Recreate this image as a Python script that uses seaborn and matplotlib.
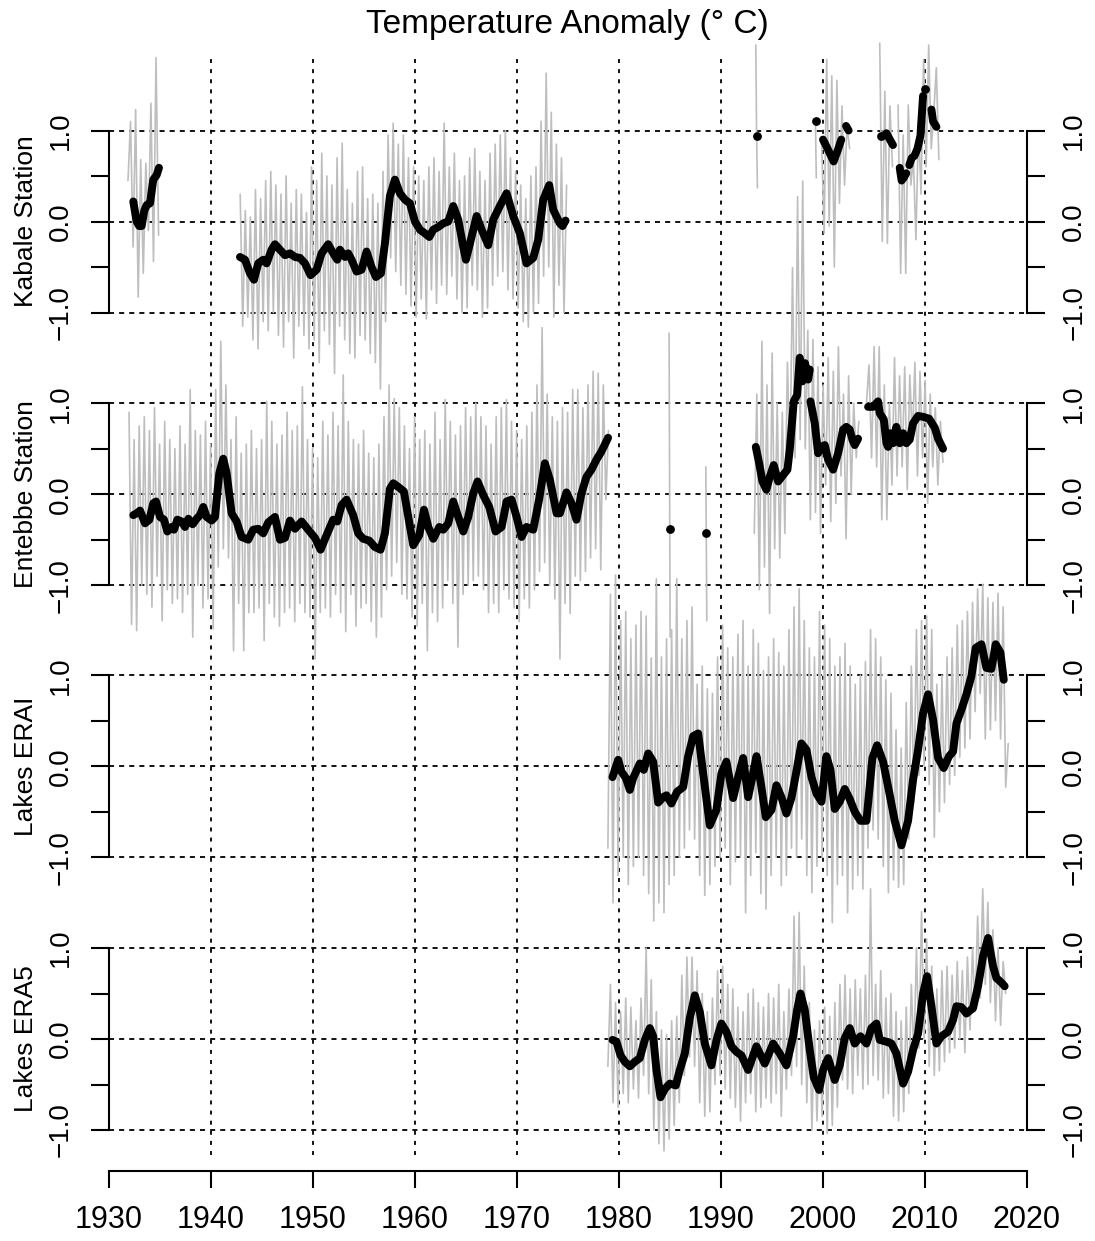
import numpy as np
import pandas as pd
import matplotlib
matplotlib.use("Agg")
import matplotlib.pyplot as plt
import seaborn as sns

# ---------------- data ----------------
panel_names = ["Kabale Station", "Entebbe Station", "Lakes ERAI", "Lakes ERA5"]
year_ticks = list(range(1930, 2021, 10))
grid_years = list(range(1940, 2011, 10))

# grey = monthly anomaly, stored as (first year, step in years, values)
kabale_grey = [
    (1931.9, 0.25, [0.45, 1.10, -0.28, 1.23, -0.83, 0.68, -0.57, 0.64, -0.10, 1.30, -0.44, 1.80, -0.15]),
    (1942.9, 0.25, [
        0.30, -1.15, 0.12, -1.05, 0.05, -1.30, 0.35, -1.40, 0.25, -1.10, 0.45, -1.20,
        0.55, -1.00, 0.40, -1.25, 0.30, -1.38, 0.50, -1.10, 0.20, -1.50, 0.35, -1.15,
        0.30, -1.25, 0.10, -1.40, 0.60, -1.30, 0.45, -1.55, 0.75, -1.20, 0.50, -1.35,
        0.40, -1.67, 0.70, -1.15, 0.86, -1.30, 0.35, -1.45, 0.20, -1.50, 0.55, -1.25,
        0.60, -1.30, 0.25, -1.45, 0.30, -1.55, 0.20, -1.84, 0.55, -1.10, 0.95, -0.40,
        1.08, -0.55, 0.85, -0.70, 0.95, -0.80, 0.70, -0.93, 0.60, -1.05, 0.50, -0.85,
        0.45, -1.07, 0.60, -0.75, 0.70, -0.90, 0.55, -0.70, 1.08, -0.80, 0.60, -0.60,
        0.75, -0.85, 0.45, -1.00, 0.50, -0.95, 0.70, -0.70, 0.80, -0.75, 0.55, -1.05,
        0.45, -0.95, 0.75, -0.70, 0.85, -0.60, 0.95, -0.55, 1.00, -0.75, 0.70, -0.85,
        0.55, -0.95, 0.40, -1.10, 0.25, -1.16, 0.50, -1.00, 0.60, -0.90, 1.10, -0.60,
        1.63, -0.50, 1.20, -1.05, 0.85, -0.70, 0.70, -1.00, 0.40]),
    (1993.45, 0.08, [1.94, 0.94, 0.37]),
    (1999.3, 0.08, [1.10, 0.48]),
    (1999.9, 0.25, [0.90, -0.13, 1.78, -0.05, 1.60, -0.50, 1.55, 0.20, 1.27, 0.40, 1.05, 0.80]),
    (2005.6, 0.25, [1.96, -0.22, 1.43, -0.24, 1.27, 0.60]),
    (2007.4, 0.25, [1.28, -0.57, 0.95, -0.57, 1.28, 0.40, 0.70, -0.20, 1.10, 0.30, 1.78, 0.60,
                    1.94, 0.80, 1.20, 1.69, 0.68]),
]

entebbe_grey = [
    (1932.0, 0.25, [
        0.90, -1.43, 0.60, -1.50, 0.75, -1.00, 0.85, -1.10, 0.70, -1.24, 0.95, -0.90,
        0.55, -1.39, 0.80, -1.05, 0.60, -1.20, 0.50, -1.15, 0.75, -1.30, 0.55, -1.10,
        1.15, -1.57, 0.70, -1.00, 0.65, -1.25, 0.80, -1.15, 0.55, -1.48, 1.15, -0.80,
        1.68, -0.60, 1.20, -0.70, 0.60, -1.72, 0.85, -1.20, 0.45, -1.72, 0.55, -1.30,
        0.70, -1.30, 0.50, -1.25, 0.60, -1.61, 1.02, -1.20, 0.80, -1.35, 0.55, -1.45,
        0.65, -1.30, 0.90, -1.25, 0.70, -1.40, 0.75, -1.20, 1.18, -1.30, 0.60, -1.35,
        0.50, -1.81, 0.40, -1.30, 0.80, -1.25, 0.65, -1.35, 0.90, -1.10, 0.75, -1.30,
        1.31, -1.51, 0.80, -1.10, 0.60, -1.45, 0.55, -1.25, 0.70, -1.20, 0.45, -1.40,
        0.40, -1.57, 0.55, -1.35, 0.85, -1.05, 1.20, -0.90, 1.05, -0.75, 0.95, -1.10,
        0.75, -1.15, 0.50, -1.35, 0.85, -1.45, 0.60, -1.20, 0.70, -1.72, 0.55, -1.30,
        0.90, -1.40, 0.60, -1.25, 1.04, -0.95, 0.80, -1.20, 0.65, -1.68, 0.75, -1.10,
        0.95, -1.00, 0.85, -0.95, 1.00, -0.90, 0.85, -1.05, 0.75, -1.30, 0.55, -1.20,
        0.85, -1.30, 0.95, -1.05, 1.04, -1.15, 0.80, -1.25, 0.70, -1.40, 0.60, -1.15,
        0.75, -1.25, 0.90, -1.05, 1.20, -0.85, 1.83, -0.75, 1.10, -1.00, 0.85, -1.15,
        0.80, -1.81, 0.95, -1.20, 0.90, -1.31, 1.15, -0.90, 1.15, -0.95, 0.95, -0.85,
        1.20, -0.70, 1.35, -0.60, 1.33, -0.83, 1.20, -0.06, 0.70]),
    (1984.95, 0.1, [1.77, -1.57]),
    (1988.55, 0.1, [0.30, -1.39]),
    (1993.3, 0.25, [
        -0.43, 1.10, -1.05, 1.68, -0.80, 1.20, -1.31, 1.55, -0.60, 1.00, -0.70, 0.90,
        -0.43, 1.45, 0.30, 2.49, 0.40, 3.27, 0.60, 3.44, 0.50, 1.80, -0.28, 1.70,
        -0.20, 1.40, -0.43, 1.20, 0.10, 1.50, -0.30, 1.35, -0.10, 1.62, 0.20, 1.10,
        -0.49, 1.30, 0.00, 1.00, 0.40, 0.80]),
    (2004.3, 0.25, [
        1.00, 1.42, 0.40, 1.62, 0.30, 1.62, -0.28, 1.20, -0.28, 1.00, 0.10, 1.50,
        0.20, 1.30, 0.30, 1.40, 0.05, 1.31, 0.60, 1.45, 0.20, 1.35, 0.40, 1.25,
        -0.10, 1.10, 0.30, 0.95, 0.10, 0.80, 0.35]),
]

erai_grey = [
    (1978.95, 0.25, [
        -0.90, 1.89, -1.50, 2.10, -1.20, 1.60, -1.00, 1.70, -1.30, 1.40, -1.10, 1.55,
        -1.00, 1.70, -1.20, 1.65, -1.40, 1.19, -1.70, 2.06, -1.50, 1.20, -1.61, 1.40,
        -1.30, 1.50, -1.20, 2.06, -1.00, 1.40, -0.90, 1.60, -0.70, 1.75, -0.80, 0.90,
        -1.20, 1.10, -1.42, 0.85, -1.30, 0.80, -1.10, 1.20, -1.00, 1.55, -0.90, 1.30,
        -1.30, 1.20, -1.05, 1.45, -1.00, 1.60, -1.61, 1.10, -1.20, 1.50, -0.95, 1.35,
        -1.40, 1.05, -1.57, 1.20, -1.20, 1.40, -1.00, 1.25, -1.31, 1.10, -1.20, 1.50,
        -0.90, 1.75, -1.00, 1.95, -0.80, 1.60, -1.20, 1.30, -1.39, 1.20, -1.10, 1.70,
        -1.00, 1.55, -1.20, 1.40, -1.72, 1.10, -1.30, 1.20, -1.20, 1.35, -1.61, 1.10,
        -1.35, 0.90, -1.20, 1.00, -1.35, 1.15, -0.90, 1.50, -0.70, 1.40, -0.80, 1.20,
        -1.10, 0.95, -1.39, 0.80, -1.25, 0.40, -1.33, 0.20, -1.30, 0.70, -0.80, 1.10,
        -0.40, 1.50, -0.10, 1.60, 0.00, 1.65, -0.20, 1.50, -0.78, 0.90, -0.50, 1.00,
        -0.40, 1.20, -0.20, 1.30, -0.10, 1.55, 0.10, 1.60, 0.20, 1.70, 0.30, 1.80,
        0.60, 1.95, 0.80, 2.00, 0.30, 1.85, 0.40, 1.80, 0.50, 1.90, 0.30, 1.75,
        -0.23, 0.25]),
]

era5_grey = [
    (1978.95, 0.25, [
        -0.30, 0.60, -0.70, 0.40, -0.75, 0.30, -0.60, 0.45, -0.70, 0.35, -0.55, 0.20,
        -0.65, 0.45, -0.40, 1.00, -0.60, 0.65, -1.00, 0.30, -1.15, 0.10, -1.23, 0.05,
        -1.10, 0.20, -0.95, 0.25, -0.70, 0.70, -0.40, 0.90, -0.20, 0.90, -0.30, 0.75,
        -0.70, 0.50, -0.85, 0.30, -0.80, 0.45, -0.50, 0.75, -0.40, 0.80, -0.55, 0.60,
        -0.65, 0.55, -0.75, 0.35, -0.90, 0.30, -0.70, 0.50, -0.60, 0.55, -0.80, 0.40,
        -0.75, 0.35, -0.65, 0.50, -0.70, 0.45, -0.60, 0.60, -0.85, 0.30, -0.55, 0.55,
        -0.40, 1.35, -0.30, 1.39, -0.50, 0.80, -0.70, 0.40, -1.00, 0.10, -0.90, 0.20,
        -0.85, 0.35, -1.04, 0.25, -0.95, 0.40, -0.75, 0.60, -0.45, 0.70, -0.55, 0.55,
        -0.60, 0.65, -0.40, 0.55, -0.55, 0.70, -0.50, 1.65, -0.40, 0.60, -0.45, 0.75,
        -0.65, 0.45, -0.60, 0.50, -0.85, 0.30, -0.90, 0.20, -0.80, 0.35, -0.60, 0.60,
        -0.20, 1.00, -0.10, 1.40, 0.00, 1.10, -0.30, 0.80, -0.40, 0.55, -0.35, 0.75,
        -0.25, 0.80, -0.15, 0.70, -0.10, 0.85, 0.00, 0.75, -0.15, 0.90, 0.10, 1.00,
        0.30, 1.35, 0.45, 1.65, 0.60, 1.50, 0.40, 1.20, 0.20, 1.00, 0.15, 0.85,
        0.50]),
]

# black = 12-month running mean, (year, anomaly); one list per unbroken piece
kabale_black = [
    [(1932.42, 0.22), (1932.75, 0.00), (1933.0, -0.05), (1933.24, -0.05), (1933.5, 0.12),
     (1933.73, 0.18), (1934.06, 0.20), (1934.38, 0.46), (1934.71, 0.51), (1934.94, 0.59)],
    [(1942.88, -0.39), (1943.37, -0.42), (1943.86, -0.57), (1944.25, -0.64), (1944.67, -0.46),
     (1945.16, -0.42), (1945.49, -0.46), (1945.98, -0.31), (1946.31, -0.25), (1946.80, -0.31),
     (1947.29, -0.37), (1947.78, -0.35), (1948.27, -0.39), (1948.76, -0.40), (1949.25, -0.46),
     (1949.80, -0.59), (1950.39, -0.53), (1950.88, -0.35), (1951.53, -0.25), (1952.02, -0.35),
     (1952.42, -0.42), (1952.68, -0.31), (1953.17, -0.39), (1953.49, -0.35), (1953.82, -0.42),
     (1954.31, -0.55), (1954.80, -0.53), (1955.29, -0.33), (1955.78, -0.50), (1956.21, -0.61),
     (1956.70, -0.57), (1957.09, -0.24), (1957.58, 0.28), (1958.07, 0.46), (1958.56, 0.31),
     (1959.05, 0.24), (1959.54, 0.20), (1960.03, 0.00), (1960.52, -0.09), (1961.01, -0.13),
     (1961.44, -0.17), (1961.83, -0.09), (1962.32, -0.06), (1962.81, -0.02), (1963.30, 0.00),
     (1963.79, 0.17), (1964.28, 0.02), (1964.77, -0.28), (1965.03, -0.42), (1965.43, -0.24),
     (1966.08, 0.06), (1966.57, -0.09), (1967.22, -0.26), (1967.71, 0.02), (1968.36, 0.17),
     (1969.02, 0.31), (1969.67, 0.06), (1970.32, -0.13), (1970.97, -0.46), (1971.63, -0.40),
     (1972.12, -0.20), (1972.61, 0.24), (1973.20, 0.40), (1973.59, 0.13), (1974.24, -0.02),
     (1974.5, -0.05), (1974.8, 0.01)],
    [(1993.57, 0.94)],
    [(1999.39, 1.10)],
    [(2000.04, 0.90), (2000.53, 0.79), (2001.08, 0.66), (2001.51, 0.79), (2001.83, 0.90)],
    [(2002.3, 1.05), (2002.55, 1.00)],
    [(2005.76, 0.94)],
    [(2006.25, 0.97), (2006.45, 0.93), (2006.9, 0.84)],
    [(2007.56, 0.59), (2007.75, 0.45), (2007.95, 0.48), (2008.2, 0.53)],
    [(2008.5, 0.62), (2008.75, 0.70)],
    [(2009.0, 0.72), (2009.3, 0.80), (2009.59, 0.94), (2009.85, 1.38)],
    [(2010.08, 1.46)],
    [(2010.67, 1.23), (2010.83, 1.10), (2011.16, 1.04)],
]

entebbe_black = [
    [(1932.42, -0.23), (1932.75, -0.21), (1933.08, -0.18), (1933.57, -0.32), (1934.0, -0.28),
     (1934.38, -0.10), (1934.65, -0.08), (1935.04, -0.25), (1935.43, -0.28), (1935.76, -0.41),
     (1936.18, -0.36), (1936.41, -0.39), (1936.74, -0.28), (1937.16, -0.30), (1937.49, -0.36),
     (1937.82, -0.27), (1938.24, -0.33), (1938.63, -0.27), (1938.96, -0.23), (1939.28, -0.14),
     (1939.61, -0.25), (1940.10, -0.29), (1940.43, -0.25), (1940.85, 0.23), (1941.24, 0.39),
     (1941.57, 0.23), (1942.06, -0.21), (1942.55, -0.30), (1943.04, -0.47), (1943.69, -0.50),
     (1944.18, -0.39), (1944.67, -0.38), (1945.16, -0.43), (1945.65, -0.31), (1946.31, -0.25),
     (1946.80, -0.50), (1947.29, -0.48), (1947.78, -0.29), (1948.27, -0.38), (1948.92, -0.30),
     (1949.57, -0.39), (1950.23, -0.48), (1950.78, -0.61), (1951.37, -0.45), (1952.02, -0.28),
     (1952.42, -0.30), (1952.84, -0.12), (1953.33, -0.06), (1953.98, -0.23), (1954.47, -0.43),
     (1954.96, -0.49), (1955.55, -0.51), (1956.10, -0.58), (1956.66, -0.61), (1957.09, -0.43),
     (1957.58, 0.06), (1957.91, 0.12), (1958.40, 0.08), (1958.95, 0.03), (1959.38, -0.25),
     (1959.87, -0.56), (1960.46, -0.45), (1960.92, -0.17), (1961.34, -0.36), (1961.83, -0.49),
     (1962.42, -0.36), (1962.81, -0.39), (1963.30, -0.32), (1963.79, -0.08), (1964.28, -0.25),
     (1964.77, -0.41), (1965.26, -0.25), (1965.75, 0.01), (1966.17, 0.14), (1966.73, -0.01),
     (1967.32, -0.14), (1967.94, -0.41), (1968.53, -0.36), (1969.02, -0.08), (1969.51, -0.06),
     (1970.00, -0.25), (1970.49, -0.47), (1970.97, -0.36), (1971.63, -0.39), (1972.22, -0.05),
     (1972.77, 0.34), (1973.26, 0.16), (1973.92, -0.21), (1974.24, -0.21), (1974.89, 0.02),
     (1975.38, -0.10), (1975.87, -0.28), (1976.36, 0.01), (1976.85, 0.19), (1977.34, 0.27),
     (1977.83, 0.38), (1978.32, 0.47), (1978.97, 0.62)],
    [(1985.02, -0.38)],
    [(1988.61, -0.43)],
    [(1993.45, 0.52), (1993.78, 0.34), (1994.10, 0.14), (1994.49, 0.05), (1994.82, 0.19),
     (1995.21, 0.32), (1995.64, 0.14), (1996.13, 0.21), (1996.55, 0.27), (1996.78, 0.49),
     (1997.17, 1.02), (1997.50, 1.09), (1997.76, 1.50), (1998.02, 1.24), (1998.28, 1.44),
     (1998.58, 1.26), (1998.74, 1.37)],
    [(1998.81, 1.02), (1999.23, 0.78), (1999.56, 0.45), (1999.88, 0.52), (2000.21, 0.54),
     (2000.54, 0.38), (2001.03, 0.27), (2001.52, 0.45), (2002.01, 0.71), (2002.33, 0.74),
     (2002.66, 0.71), (2002.92, 0.60), (2003.15, 0.54), (2003.48, 0.61)],
    [(2004.46, 0.96), (2004.95, 0.96), (2005.44, 1.02), (2005.60, 0.89), (2006.00, 0.82),
     (2006.26, 0.56), (2006.42, 0.52), (2006.65, 0.67), (2006.91, 0.56), (2007.23, 0.74),
     (2007.56, 0.56), (2007.89, 0.67), (2008.21, 0.56), (2008.54, 0.60), (2008.87, 0.78),
     (2009.36, 0.86), (2009.85, 0.85), (2010.44, 0.83), (2011.00, 0.73), (2011.32, 0.61),
     (2011.81, 0.50)],
]

erai_black = [
    [(1979.40, -0.12), (1979.96, 0.07), (1980.28, -0.06), (1980.71, -0.13), (1981.10, -0.26),
     (1981.43, -0.13), (1982.08, 0.03), (1982.47, -0.04), (1982.90, 0.14), (1983.39, 0.05),
     (1983.88, -0.40), (1984.37, -0.34), (1984.69, -0.32), (1985.18, -0.41), (1985.74, -0.28),
     (1986.33, -0.23), (1986.82, 0.11), (1987.31, 0.33), (1987.80, 0.36), (1988.29, -0.08),
     (1988.94, -0.65), (1989.59, -0.48), (1990.08, -0.08), (1990.57, 0.05), (1991.23, -0.35),
     (1991.72, -0.12), (1992.21, 0.09), (1992.70, -0.34), (1993.19, -0.08), (1993.52, 0.11),
     (1994.00, -0.23), (1994.43, -0.56), (1994.99, -0.48), (1995.47, -0.21), (1995.96, -0.34),
     (1996.45, -0.52), (1996.94, -0.35), (1997.43, -0.06), (1997.92, 0.25), (1998.42, 0.18),
     (1998.91, -0.12), (1999.40, -0.30), (1999.89, -0.39), (2000.37, 0.11), (2000.77, -0.04),
     (2001.19, -0.47), (2001.68, -0.39), (2002.17, -0.25), (2002.66, -0.36), (2003.15, -0.50),
     (2003.71, -0.60), (2004.30, -0.60), (2004.88, 0.09), (2005.34, 0.23), (2005.93, 0.05),
     (2006.52, -0.28), (2007.07, -0.60), (2007.73, -0.87), (2008.38, -0.60), (2008.87, -0.15),
     (2009.36, 0.18), (2009.85, 0.58), (2010.34, 0.79), (2010.83, 0.51), (2011.32, 0.09),
     (2011.87, -0.02), (2012.40, 0.11), (2012.79, 0.16), (2013.12, 0.47), (2013.61, 0.62),
     (2014.10, 0.79), (2014.59, 0.99), (2015.01, 1.30), (2015.57, 1.34), (2016.06, 1.08),
     (2016.55, 1.07), (2016.97, 1.34), (2017.43, 1.25), (2017.76, 0.95)],
]

era5_black = [
    [(1979.40, -0.01), (1979.79, -0.03), (1980.19, -0.18), (1980.61, -0.25), (1981.10, -0.30),
     (1981.59, -0.25), (1982.08, -0.21), (1982.57, -0.01), (1983.06, 0.12), (1983.39, 0.03),
     (1983.71, -0.34), (1984.11, -0.64), (1984.53, -0.55), (1985.02, -0.49), (1985.61, -0.51),
     (1986.00, -0.34), (1986.49, -0.16), (1986.98, 0.23), (1987.47, 0.48), (1987.96, 0.30),
     (1988.45, -0.05), (1989.10, -0.29), (1989.60, -0.01), (1990.08, 0.17), (1990.57, 0.08),
     (1991.06, -0.08), (1991.55, -0.14), (1992.04, -0.18), (1992.70, -0.34), (1993.51, -0.08),
     (1994.33, -0.27), (1995.15, -0.05), (1995.80, -0.16), (1996.45, -0.29), (1997.11, 0.03),
     (1997.50, 0.32), (1997.83, 0.50), (1998.25, 0.32), (1998.74, -0.12), (1999.13, -0.42),
     (1999.66, -0.56), (2000.05, -0.34), (2000.54, -0.21), (2001.19, -0.45), (2001.68, -0.29),
     (2002.17, 0.01), (2002.66, 0.12), (2003.15, -0.05), (2003.71, 0.03), (2004.30, -0.05),
     (2004.79, 0.12), (2005.28, 0.17), (2005.60, -0.01), (2006.26, -0.03), (2006.75, -0.05),
     (2007.24, -0.16), (2007.89, -0.49), (2008.38, -0.36), (2008.87, -0.12), (2009.36, 0.06),
     (2009.85, 0.50), (2010.24, 0.69), (2010.67, 0.36), (2011.16, -0.05), (2011.65, 0.03),
     (2012.30, 0.08), (2012.79, 0.21), (2013.12, 0.36), (2013.61, 0.35), (2014.10, 0.28),
     (2014.75, 0.34), (2015.24, 0.58), (2015.73, 0.91), (2016.22, 1.11), (2016.71, 0.80),
     (2017.04, 0.67), (2017.53, 0.62), (2017.85, 0.58)],
]

grey_data = [kabale_grey, entebbe_grey, erai_grey, era5_grey]
black_data = [kabale_black, entebbe_black, erai_black, era5_black]


def grey_frame(segs):
    rows = []
    for k, (t0, dt, vals) in enumerate(segs):
        for i, v in enumerate(vals):
            rows.append((t0 + i * dt, v, k))
    return pd.DataFrame(rows, columns=["year", "anom", "seg"])


def black_frame(segs):
    rows = []
    for k, seg in enumerate(segs):
        for t, v in seg:
            rows.append((t, v, k, len(seg)))
    return pd.DataFrame(rows, columns=["year", "anom", "seg", "n"])


# ---------------- figure ----------------
sns.set_style("ticks")
plt.rcParams["font.family"] = ["Liberation Sans", "DejaVu Sans"]
plt.rcParams["text.color"] = "black"
plt.rcParams["axes.labelcolor"] = "black"
plt.rcParams["xtick.color"] = "black"
plt.rcParams["ytick.color"] = "black"

W, H = 1095, 1241
fig = plt.figure(figsize=(W / 100, H / 100), dpi=100)

x0, x1 = 108.6, 1026.6          # pixel columns of 1930 and 2020
centers = [221.5, 494.2, 766.2, 1039.0]   # pixel row of the 0 line per panel
S = 91.0                         # pixels per degree

dot = (0, (2.2, 3.4))
dash = (0, (2.8, 2.8))

# background axes: vertical grid + year axis
top_px, bot_px = 53, 1171
bg = fig.add_axes([x0 / W, 1 - bot_px / H, (x1 - x0) / W, (bot_px - top_px) / H])
bg.set_xlim(1930, 2020)
bg.set_ylim(0, 1)
bg.patch.set_alpha(0)
for yr in grid_years:
    bg.axvline(yr, ymin=16 / (bot_px - top_px), ymax=1, color="black", lw=1.3, ls=dot)
for s in ["top", "left", "right"]:
    bg.spines[s].set_visible(False)
bg.spines["bottom"].set_linewidth(1.5)
bg.spines["bottom"].set_color("black")
bg.set_yticks([])
bg.set_xticks(year_ticks)
bg.set_xticklabels([str(y) for y in year_ticks])
bg.tick_params(axis="x", length=12.5, width=1.5, color="black", labelcolor="black",
               labelsize=22, pad=12)

for k, name in enumerate(panel_names):
    c = centers[k]
    ax = fig.add_axes([x0 / W, 1 - (c + 1.5 * S) / H, (x1 - x0) / W, 3 * S / H])
    ax.patch.set_alpha(0)
    ax.set_xlim(1930, 2020)
    ax.set_ylim(-1.5, 1.5)

    for v in [-1, 0, 1]:
        ax.axhline(v, color="black", lw=1.3, ls=dash, zorder=1)

    g = grey_frame(grey_data[k])
    sns.lineplot(data=g, x="year", y="anom", units="seg", estimator=None,
                 color="#BEBEBE", lw=1.2, legend=False, ax=ax, clip_on=False, zorder=2)

    b = black_frame(black_data[k])
    lines = b[b["n"] > 1]
    pts = b[b["n"] == 1]
    sns.lineplot(data=lines, x="year", y="anom", units="seg", estimator=None,
                 color="black", lw=5.7, legend=False, ax=ax, clip_on=False, zorder=3,
                 solid_capstyle="round", solid_joinstyle="round")
    if len(pts):
        sns.scatterplot(data=pts, x="year", y="anom", color="black", s=40,
                        linewidth=0, legend=False, ax=ax, clip_on=False, zorder=3)

    ax.spines["top"].set_visible(False)
    ax.spines["bottom"].set_visible(False)
    for s in ["left", "right"]:
        ax.spines[s].set_visible(True)
        ax.spines[s].set_bounds(-1, 1)
        ax.spines[s].set_linewidth(1.5)
        ax.spines[s].set_color("black")
    ax.set_xticks([])
    ax.set_yticks([-1, -0.5, 0, 0.5, 1])
    ax.set_yticklabels(["\u22121.0", "", "0.0", "", "1.0"])
    ax.tick_params(axis="y", left=True, right=True, labelleft=True, labelright=True,
                   length=13, width=1.5, color="black", labelcolor="black",
                   labelsize=20, pad=12, labelrotation=90)
    for lab in ax.get_yticklabels():
        lab.set_verticalalignment("center")
    ax.set_xlabel("")
    ax.set_ylabel(name, fontsize=19, color="black")
    ax.yaxis.set_label_coords((38 - x0) / (x1 - x0), 0.5)

fig.text((x0 + x1) / 2 / W, 1 - 25 / H, "Temperature Anomaly (\u00b0 C)",
         ha="center", va="center", fontsize=24, color="black")

fig.savefig("out.png", dpi=100)
